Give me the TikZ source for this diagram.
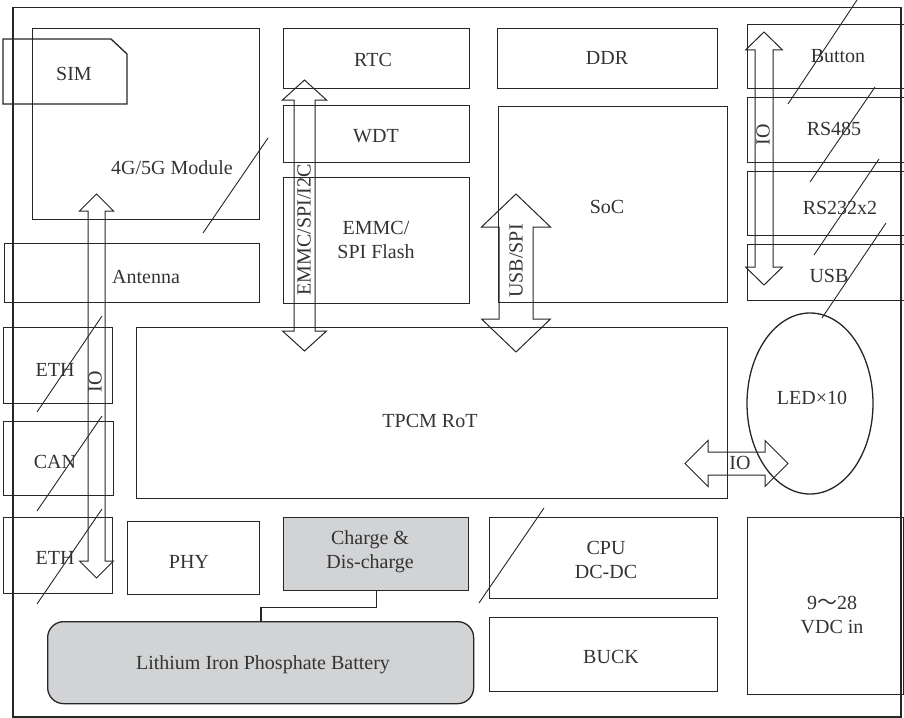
\documentclass[tikz,border=0pt]{standalone}
\usepackage{fontspec}
\setmainfont{Liberation Serif}
\newfontfamily\cjk{Noto Sans CJK SC}
\usetikzlibrary{shapes.geometric,calc}
\definecolor{lc}{HTML}{262626}
\definecolor{tc}{HTML}{333333}
\definecolor{gf}{HTML}{D2D3D5}
% box: name, x1, y1, x2, y2
\newcommand\mybox[6][]{\node[box,#1,minimum width={#5pt-#3pt},minimum height={#6pt-#4pt}] (#2) at (#3,#4) {};}
% vertical block arrow: cx, top tip, bottom tip, shaft half, head half, head length
\newcommand\myvarrow[6]{\draw[barrow] (#1,#2) -- ({#1+#5},{#2+#6}) -- ({#1+#4},{#2+#6}) -- ({#1+#4},{#3-#6}) -- ({#1+#5},{#3-#6}) -- (#1,#3) -- ({#1-#5},{#3-#6}) -- ({#1-#4},{#3-#6}) -- ({#1-#4},{#2+#6}) -- ({#1-#5},{#2+#6}) -- cycle;}
% horizontal block arrow: cy, left tip, right tip, shaft half, head half, head length
\newcommand\myharrow[6]{\draw[barrow] (#2,#1) -- ({#2+#6},{#1-#5}) -- ({#2+#6},{#1-#4}) -- ({#3-#6},{#1-#4}) -- ({#3-#6},{#1-#5}) -- (#3,#1) -- ({#3-#6},{#1+#5}) -- ({#3-#6},{#1+#4}) -- ({#2+#6},{#1+#4}) -- ({#2+#6},{#1+#5}) -- cycle;}
\begin{document}
\begin{tikzpicture}[x=1pt,y=-1pt,
  box/.style={draw=lc,line width=1.3pt,inner sep=0pt,anchor=north west},
  lbl/.style={text=tc,font=\fontsize{20}{24}\selectfont,inner sep=0pt,align=center},
  slash/.style={draw=lc,line width=0.9pt},
  barrow/.style={draw=lc,line width=1pt,line join=miter},
  conn/.style={draw=lc,line width=1.3pt}]
\useasboundingbox (0,0) rectangle (904,717);
\clip (0,0) rectangle (904,717);
% outer frame
\mybox[line width=1.5pt]{frame}{12}{7}{900}{716}
% left column
\mybox{g4}{32}{28}{259}{219}
\draw[draw=lc,line width=1.3pt] (3,39) -- (111,39) -- (127,54) -- (127,104) -- (3,104) -- cycle;
\mybox{ant}{4}{243}{259}{302}
\mybox{eth1}{3}{327}{112}{403}
\mybox{can}{3}{421}{113}{495}
\mybox{eth2}{3}{517}{112}{593}
% middle
\mybox{rtc}{283}{28}{469}{88}
\mybox{wdt}{283}{105}{469}{162}
\mybox{emmc}{283}{177}{469}{303}
\mybox{ddr}{497}{28}{717}{88}
\mybox{soc}{498}{106}{727}{302}
\mybox{tpcm}{136}{327}{727}{498}
% right column
\mybox{btn}{747}{24}{915}{88}
\mybox{rs485}{747}{97}{915}{162}
\mybox{rs232}{747}{171}{915}{235}
\mybox{usb}{747}{244}{915}{300}
\node[ellipse,draw=lc,line width=1.3pt,minimum width=126pt,minimum height=181pt,inner sep=0pt] (led) at (810,403.5) {};
\mybox{vdc}{747}{517}{903}{694}
% bottom
\mybox{cpu}{489}{517}{717}{598}
\mybox{buck}{489}{617}{717}{691}
\mybox{phy}{127}{521}{259}{594}
\mybox[fill=gf]{chg}{283}{517}{468}{590}
\mybox[fill=gf,rounded corners=16pt]{bat}{47}{621}{473}{703}
\coordinate (bj) at (261,621);
\draw[conn] (chg.south) -- ++(0,16) -| (bat.north -| bj);
% slash lines
\draw[slash] (268,138) -- (203,233);
\draw[slash] (102,316) -- (37,412);
\draw[slash] (102,416) -- (37,511);
\draw[slash] (102,509) -- (37,604);
\draw[slash] (857,0) -- (788,104);
\draw[slash] (875,87) -- (810,182);
\draw[slash] (879,159) -- (814,255);
\draw[slash] (886,223) -- (822,318);
\draw[slash] (544,508) -- (479,603);
% block arrows
\myvarrow{96.5}{194}{578}{8.5}{17}{17}
\myvarrow{304.5}{80}{351}{10.5}{22}{20}
\myvarrow{516}{194}{352}{17}{34.5}{33}
\myvarrow{764}{32}{285}{9}{18.5}{18}
\myharrow{463.5}{685}{788}{11.5}{23}{23}
% texts
\node[lbl] (tsim) at (74,74) {SIM};
\node[lbl] (tg4) at (172,168) {4G/5G Module};
\node[lbl] (tant) at (146,277) {Antenna};
\node[lbl] (teth1) at (55,370) {ETH};
\node[lbl] (tcan) at (55,462) {CAN};
\node[lbl] (teth2) at (55,558) {ETH};
\node[lbl,rotate=90] (tio1) at (95,382) {IO};
\node[lbl] (trtc) at (373,60) {RTC};
\node[lbl] (twdt) at (376,136) {WDT};
\node[lbl] (temmc) at (376,240) {EMMC/\\SPI Flash};
\node[lbl,rotate=90] (tbus1) at (304,230) {EMMC/SPI/I2C};
\node[lbl] (tddr) at (607,58) {DDR};
\node[lbl] (tsoc) at (607,207) {SoC};
\node[lbl,rotate=90] (tbus2) at (516,261) {USB/SPI};
\node[lbl] (ttpcm) at (430,421) {TPCM RoT};
\node[lbl] (tbtn) at (838,56) {Button};
\node[lbl] (t485) at (834,129) {RS485};
\node[lbl] (t232) at (840,208) {RS232x2};
\node[lbl] (tusb) at (829,276) {USB};
\node[lbl,rotate=90] (tio2) at (763,135) {IO};
\node[lbl] (tled) at (812,398) {LED×10};
\node[lbl] (tio3) at (740,463) {IO};
\node[lbl] (tvdc) at (832,615) {9{\cjk ～}28\\VDC in};
\node[lbl] (tcpu) at (606,560) {CPU\\DC-DC};
\node[lbl] (tbuck) at (611,657) {BUCK};
\node[lbl] (tphy) at (189,562) {PHY};
\node[lbl] (tchg) at (370,552) {Charge \&\\Dis-charge};
\node[lbl] (tbat) at (263,665) {Lithium Iron Phosphate Battery};
\end{tikzpicture}
\end{document}
